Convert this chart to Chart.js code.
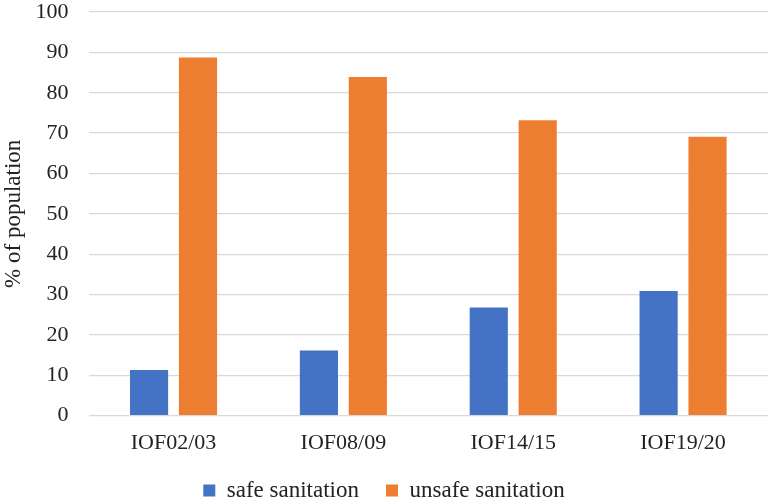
<!DOCTYPE html>
<html>
<head>
<meta charset="utf-8">
<script src="https://cdn.jsdelivr.net/npm/chart.js@4/dist/chart.umd.min.js"></script>
<style>
  html, body { margin: 0; padding: 0; background: #fff; }
  #wrap { width: 773px; height: 499px; position: relative; }
</style>
</head>
<body>
<div id="wrap"><canvas id="chart"></canvas></div>
<script>
// survey rounds
const categories = ['IOF02/03', 'IOF08/09', 'IOF14/15', 'IOF19/20'];
const safeSanitation = [11.3, 16.1, 26.8, 30.9];
const unsafeSanitation = [88.7, 83.9, 73.2, 69.1];

const serif = 'Liberation Serif, Times New Roman, serif';

new Chart(document.getElementById('chart').getContext('2d'), {
  type: 'bar',
  data: {
    labels: categories,
    datasets: [
      {label: 'safe sanitation', data: safeSanitation, backgroundColor: '#4472c4', barPercentage: 0.78, categoryPercentage: 0.576},
      {label: 'unsafe sanitation', data: unsafeSanitation, backgroundColor: '#ed7d31', barPercentage: 0.78, categoryPercentage: 0.576}
    ]
  },
  options: {
    responsive: true, maintainAspectRatio: false, animation: false,
    layout: {padding: {top: 0, right: 5, left: 0, bottom: -13}},
    scales: {
      x: {
        grid: {display: false},
        border: {display: false},
        ticks: {color: '#222', font: {family: serif, size: 22}, padding: 6},
        afterFit: s => { s.height += 13; }
      },
      y: {
        min: 0, max: 100,
        grid: {color: '#d9d9d9', lineWidth: 1.3, drawTicks: false},
        border: {display: false},
        ticks: {stepSize: 10, color: '#222', font: {family: serif, size: 22}, padding: 20},
        title: {display: true, text: '% of population', color: '#222', font: {family: serif, size: 23}, padding: {top: 0, bottom: -12}},
        // tick padding should only push labels sideways, not shrink the plot vertically
        afterFit: s => { s.paddingTop = 12; s.paddingBottom = 13; }
      }
    },
    plugins: {
      legend: {
        position: 'bottom',
        labels: {
          color: '#222', font: {family: serif, size: 23}, boxWidth: 12, boxHeight: 12, padding: 4, useBorderRadius: false,
          // wider gap after the first item, like the original legend
          generateLabels: chart => {
            const items = Chart.defaults.plugins.legend.labels.generateLabels(chart);
            items[0].text += '\u00a0\u00a0\u00a0\u00a0';
            return items;
          }
        }
      },
      tooltip: {enabled: false}
    }
  }
});
</script>
</body>
</html>
